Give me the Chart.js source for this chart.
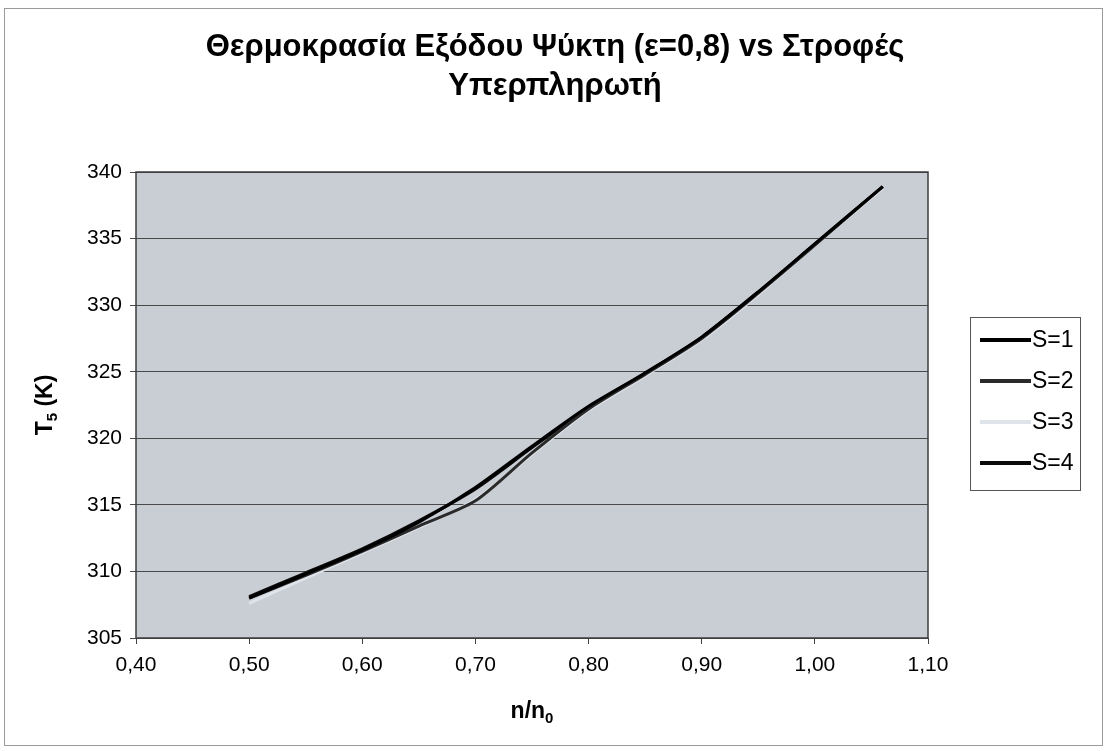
<!DOCTYPE html>
<html>
<head>
<meta charset="utf-8">
<script src="https://cdn.jsdelivr.net/npm/chart.js@4"></script>
<style>
html,body{margin:0;padding:0;background:#fff;}
#wrap{width:1108px;height:751px;position:relative;}
</style>
</head>
<body>
<div id="wrap"><canvas id="c" width="1108" height="751"></canvas></div>
<script>
// ---- data ----
const nRatio = [0.50, 0.55, 0.60, 0.65, 0.70, 0.75, 0.80, 0.85, 0.90, 0.95, 1.00, 1.06];
const tS1 = [308.0, 309.8, 311.6, 313.7, 316.3, 319.4, 322.4, 324.9, 327.6, 331.0, 334.6, 338.9];
const tS2 = [308.0, 309.7, 311.5, 313.4, 315.3, 318.9, 322.2, 324.8, 327.5, 330.9, 334.5, 338.9];
const tS3 = [307.6, 309.5, 311.4, 313.3, 315.4, 318.8, 322.1, 324.7, 327.4, 330.8, 334.5, 338.8];
const tS4 = [308.1, 309.9, 311.7, 313.8, 316.2, 319.3, 322.3, 324.9, 327.6, 331.0, 334.6, 338.9];
const seriesNames = ['S=1', 'S=2', 'S=3', 'S=4'];
const seriesColors = ['#000000', '#2a2a2a', '#dfe3ea', '#0a0a0a'];
const yTicks = [305, 310, 315, 320, 325, 330, 335, 340];
const xTicks = [0.40, 0.50, 0.60, 0.70, 0.80, 0.90, 1.00, 1.10];
const titleLines = ['Θερμοκρασία Εξόδου Ψύκτη (ε=0,8) vs Στροφές', 'Υπερπληρωτή'];
// axis titles as [main, subscript, rest]
const yTitleParts = ['T', '5', ' (K)'];
const xTitleParts = ['n/n', '0', ''];

const FONT = "'Liberation Sans', Arial, sans-serif";
const allSeries = [tS1, tS2, tS3, tS4];

const datasets = allSeries.map((vals, i) => ({
  label: seriesNames[i],
  data: nRatio.map((x, j) => ({x: x, y: vals[j]})),
  borderColor: seriesColors[i],
  backgroundColor: seriesColors[i],
  borderWidth: 3,
  pointRadius: 0,
  tension: 0.25,
  fill: false
}));

function drawSubTitle(ctx, parts, cx, cy, rot) {
  const big = 'bold 23px ' + FONT, small = 'bold 15px ' + FONT;
  ctx.save();
  ctx.translate(cx, cy);
  ctx.rotate(rot);
  ctx.font = big; const w1 = ctx.measureText(parts[0]).width;
  const w3 = ctx.measureText(parts[2]).width;
  ctx.font = small; const w2 = ctx.measureText(parts[1]).width;
  let x = -(w1 + w2 + w3) / 2;
  ctx.fillStyle = '#000';
  ctx.textAlign = 'left';
  ctx.textBaseline = 'alphabetic';
  ctx.font = big; ctx.fillText(parts[0], x, 8); x += w1;
  ctx.font = small; ctx.fillText(parts[1], x, 13); x += w2;
  ctx.font = big; ctx.fillText(parts[2], x, 8);
  ctx.restore();
}

const decor = {
  id: 'decor',
  beforeDraw(chart) {
    const ctx = chart.ctx, a = chart.chartArea;
    ctx.save();
    ctx.fillStyle = '#ffffff';
    ctx.fillRect(0, 0, chart.width, chart.height);
    ctx.strokeStyle = '#9a9a9a';
    ctx.lineWidth = 1;
    ctx.strokeRect(4.5, 8.5, 1098, 737);
    ctx.fillStyle = '#c9cdd4';
    ctx.fillRect(a.left, a.top, a.right - a.left, a.bottom - a.top);
    // title, centred on the whole chart
    ctx.fillStyle = '#000';
    ctx.font = 'bold 31px ' + FONT;
    ctx.textAlign = 'center';
    ctx.textBaseline = 'middle';
    titleLines.forEach((t, i) => ctx.fillText(t, 555, 47 + i * 39));
    ctx.restore();
    drawSubTitle(ctx, xTitleParts, (a.left + a.right) / 2, 710, 0);
    drawSubTitle(ctx, yTitleParts, 44, (a.top + a.bottom) / 2, -Math.PI / 2);
  },
  afterDatasetsDraw(chart) {
    const ctx = chart.ctx, a = chart.chartArea;
    ctx.save();
    ctx.strokeStyle = '#3c3c3c';
    ctx.lineWidth = 1.5;
    ctx.strokeRect(a.left, a.top, a.right - a.left, a.bottom - a.top);
    // legend
    const lx = 970.5, ly = 317.5, lw = 110, lh = 173;
    ctx.fillStyle = '#ffffff';
    ctx.fillRect(lx, ly, lw, lh);
    ctx.strokeStyle = '#555555';
    ctx.lineWidth = 1;
    ctx.strokeRect(lx, ly, lw, lh);
    ctx.font = '23px ' + FONT;
    ctx.textBaseline = 'middle';
    ctx.textAlign = 'left';
    chart.data.datasets.forEach((ds, i) => {
      const y = 340 + i * 41;
      ctx.strokeStyle = ds.borderColor;
      ctx.lineWidth = 4;
      ctx.beginPath();
      ctx.moveTo(980, y);
      ctx.lineTo(1031, y);
      ctx.stroke();
      ctx.fillStyle = '#000';
      ctx.fillText(ds.label, 1032, y + 1);
    });
    ctx.restore();
  }
};

new Chart(document.getElementById('c'), {
  type: 'line',
  data: {datasets: datasets},
  plugins: [decor],
  options: {
    responsive: false,
    animation: false,
    devicePixelRatio: 1,
    layout: {padding: {left: 20, right: 180, top: 172, bottom: 20}},
    plugins: {
      legend: {display: false},
      tooltip: {enabled: false},
      title: {display: false}
    },
    scales: {
      x: {
        type: 'linear',
        min: 0.4, max: 1.1,
        afterBuildTicks(s) { s.ticks = xTicks.map(v => ({value: v})); },
        afterFit(s) { s.height = 93; },
        ticks: {
          color: '#000',
          font: {family: FONT, size: 21},
          padding: 9,
          callback: v => v.toFixed(2).replace('.', ',')
        },
        grid: {drawOnChartArea: false, drawTicks: true, tickLength: 6, color: '#444'},
        border: {display: false},
        title: {display: false}
      },
      y: {
        type: 'linear',
        min: 305, max: 340,
        afterBuildTicks(s) { s.ticks = yTicks.map(v => ({value: v})); },
        afterFit(s) { s.width = 116; },
        ticks: {
          color: '#000',
          font: {family: FONT, size: 21},
          padding: 8
        },
        grid: {color: '#4a4a4a', lineWidth: 1, tickLength: 6},
        border: {display: false},
        title: {display: false}
      }
    }
  }
});
</script>
</body>
</html>
